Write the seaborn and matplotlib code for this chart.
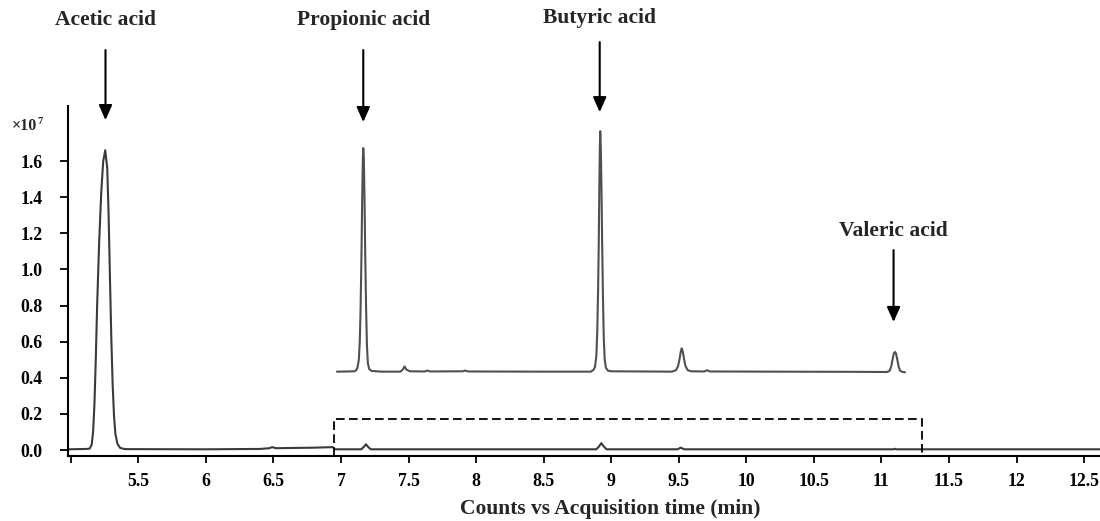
import numpy as np
import pandas as pd
import matplotlib
matplotlib.use("Agg")
import matplotlib.pyplot as plt
import seaborn as sns

# ---------------- data (values in units of 1e7 counts) ----------------
main_time = [4.98, 5.05, 5.12, 5.14, 5.155, 5.165, 5.175, 5.185, 5.195, 5.21, 5.225, 5.24,
             5.255, 5.27, 5.28, 5.29, 5.30, 5.31, 5.32, 5.33, 5.345, 5.365, 5.40, 6.0,
             6.40, 6.47, 6.49, 6.52, 6.60, 6.80, 6.94, 6.955, 7.15, 7.17, 7.185, 7.20,
             7.22, 8.89, 8.91, 8.927, 8.945, 8.965, 9.49, 9.515, 9.54, 11.09, 11.10,
             11.11, 12.62]
main_counts = [0.004, 0.005, 0.006, 0.008, 0.03, 0.10, 0.25, 0.50, 0.80, 1.15, 1.42, 1.60,
               1.66, 1.56, 1.30, 0.95, 0.62, 0.36, 0.19, 0.09, 0.035, 0.012, 0.005, 0.004,
               0.006, 0.010, 0.016, 0.010, 0.011, 0.013, 0.016, 0.004, 0.004, 0.018, 0.032,
               0.018, 0.004, 0.004, 0.020, 0.038, 0.020, 0.004, 0.004, 0.013, 0.004, 0.004,
               0.007, 0.004, 0.004]

inset_time = [6.97, 7.05, 7.10, 7.112, 7.122, 7.132, 7.139, 7.145, 7.151, 7.157, 7.162,
              7.165, 7.169, 7.174, 7.180, 7.186, 7.192, 7.199, 7.209, 7.227, 7.30, 7.44,
              7.46, 7.47, 7.485, 7.51, 7.62, 7.64, 7.66, 7.90, 7.92, 7.94, 8.50, 8.85,
              8.87, 8.88, 8.89, 8.897, 8.903, 8.908, 8.912, 8.916, 8.919, 8.923, 8.928,
              8.933, 8.939, 8.945, 8.952, 8.961, 8.975, 9.00, 9.45, 9.48, 9.495, 9.505,
              9.515, 9.522, 9.53, 9.54, 9.55, 9.565, 9.59, 9.69, 9.71, 9.73, 10.2, 10.8,
              11.04, 11.06, 11.072, 11.082, 11.092, 11.10, 11.108, 11.118, 11.128, 11.14,
              11.155, 11.175]
inset_counts = [0.434, 0.435, 0.436, 0.442, 0.455, 0.50, 0.60, 0.78, 1.05, 1.40, 1.62,
                1.672, 1.62, 1.40, 1.05, 0.78, 0.58, 0.48, 0.448, 0.438, 0.434, 0.434,
                0.448, 0.463, 0.445, 0.436, 0.435, 0.440, 0.435, 0.436, 0.440, 0.435, 0.434,
                0.434, 0.445, 0.46, 0.52, 0.66, 0.88, 1.15, 1.45, 1.68, 1.766, 1.68, 1.45,
                1.15, 0.85, 0.62, 0.50, 0.455, 0.44, 0.436, 0.434, 0.442, 0.465, 0.50,
                0.545, 0.563, 0.545, 0.50, 0.465, 0.443, 0.436, 0.435, 0.442, 0.435, 0.434,
                0.433, 0.432, 0.438, 0.46, 0.50, 0.535, 0.543, 0.535, 0.50, 0.46, 0.438,
                0.433, 0.430]

peak_names = ["Acetic acid", "Propionic acid", "Butyric acid", "Valeric acid"]
peak_times = [5.257, 7.165, 8.915, 11.09]

x_ticks = [5.0, 5.5, 6.0, 6.5, 7.0, 7.5, 8.0, 8.5, 9.0, 9.5, 10.0, 10.5, 11.0, 11.5, 12.0, 12.5]
x_tick_labels = ["", "5.5", "6", "6.5", "7", "7.5", "8", "8.5", "9", "9.5", "10", "10.5",
                 "11", "11.5", "12", "12.5"]
y_ticks = [0.0, 0.2, 0.4, 0.6, 0.8, 1.0, 1.2, 1.4, 1.6]
y_tick_labels = ["0.0", "0.2", "0.4", "0.6", "0.8", "1.0", "1.2", "1.4", "1.6"]

zoom_box_time = [6.948, 11.30]
zoom_box_top = 0.170

# ---------------- style ----------------
sns.set_style("ticks")
plt.rcParams["font.family"] = ["Liberation Serif", "DejaVu Serif"]
plt.rcParams["font.weight"] = "bold"

fig = plt.figure(figsize=(11, 5.21), dpi=100)
ax = fig.add_axes([0.0614, 0.1248, 0.9386, 0.6717])

XMIN, XMAX = 4.976, 12.618
YMIN, YMAX = -0.033, 1.905

main_df = pd.DataFrame({"time": main_time, "counts": main_counts})
inset_df = pd.DataFrame({"time": inset_time, "counts": inset_counts})

sns.lineplot(data=main_df, x="time", y="counts", ax=ax, color="#3a3a3a", lw=1.5,
             estimator=None)
sns.lineplot(data=inset_df, x="time", y="counts", ax=ax, color="#505050", lw=1.5,
             estimator=None)

# dashed zoom box
ax.plot([zoom_box_time[0], zoom_box_time[0], zoom_box_time[1], zoom_box_time[1]],
        [YMIN, zoom_box_top, zoom_box_top, YMIN], color="black", lw=1.3,
        linestyle=(0, (4.8, 2.4)), clip_on=False)

ax.set_xlim(XMIN, XMAX)
ax.set_ylim(YMIN, YMAX)
ax.set_xticks(x_ticks)
ax.set_xticklabels(x_tick_labels)
ax.set_yticks(y_ticks)
ax.set_yticklabels(y_tick_labels)

for s in ["top", "right"]:
    ax.spines[s].set_visible(False)
for s in ["left", "bottom"]:
    ax.spines[s].set_linewidth(1.5)
    ax.spines[s].set_color("black")

ax.tick_params(axis="x", direction="out", length=5, width=1.3, pad=7,
               labelsize=12.8, colors="black")
ax.tick_params(axis="y", direction="out", length=6, width=1.3, pad=12,
               labelsize=12.8, colors="black")
for lab in ax.get_xticklabels() + ax.get_yticklabels():
    lab.set_fontweight("bold")

ax.set_ylabel("")
ax.set_xlabel("Counts vs Acquisition time (min)", fontsize=15.5, fontweight="bold")
ax.xaxis.set_label_coords(0.5254, -0.151)
ax.xaxis.label.set_va("center")

# multiplier label
fig.text(12 / 1100, 1 - 126 / 521, "×10", fontsize=11.5, fontweight="bold",
         ha="left", va="center")
fig.text(37 / 1100, 1 - 121 / 521, "7", fontsize=7.5, fontweight="bold",
         ha="left", va="center")

# peak annotations (arrow tip, arrow tail, label heights in data units)
arrow_tips = [1.827, 1.816, 1.871, 0.709]
arrow_tails = [2.215, 2.215, 2.259, 1.107]
label_heights = [2.382, 2.382, 2.392, 1.213]
for name, t, tip, tail, lh in zip(peak_names, peak_times, arrow_tips, arrow_tails,
                                  label_heights):
    ax.annotate("", xy=(t, tip), xytext=(t, tail), annotation_clip=False,
                arrowprops=dict(arrowstyle="-|>,head_length=0.45,head_width=0.2",
                                color="black", lw=1.5,
                                mutation_scale=20, shrinkA=0, shrinkB=0))
    ax.text(t, lh, name, ha="center", va="center", fontsize=15.5, fontweight="bold",
            clip_on=False)

fig.savefig("out.png", dpi=100)
